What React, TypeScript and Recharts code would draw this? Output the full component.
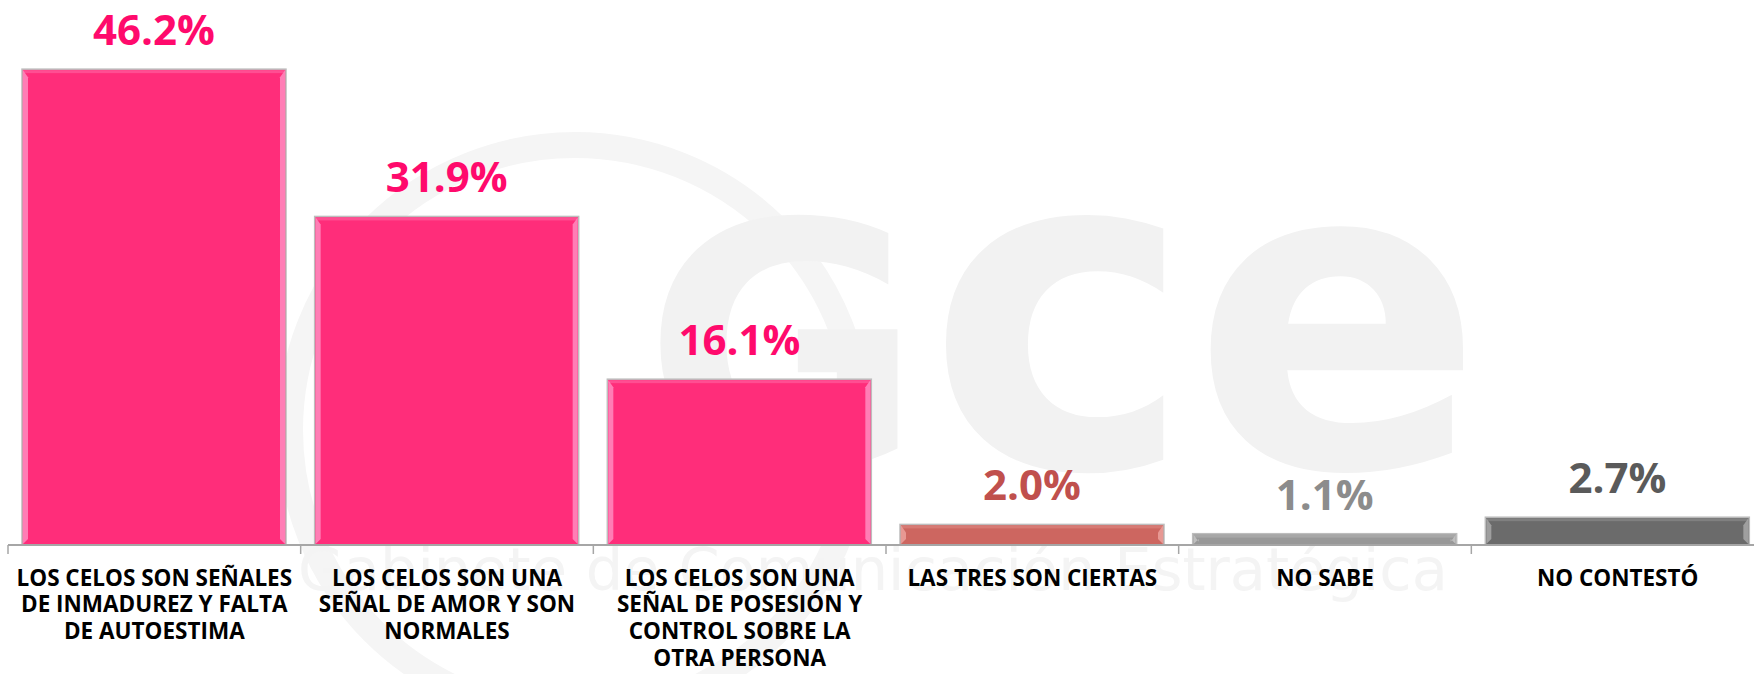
import { BarChart, Bar, XAxis, YAxis, Cell, LabelList } from 'recharts';

const categories = [
    'LOS CELOS SON SEÑALES DE INMADUREZ Y FALTA DE AUTOESTIMA',
    'LOS CELOS SON UNA SEÑAL DE AMOR Y SON NORMALES',
    'LOS CELOS SON UNA SEÑAL DE POSESIÓN Y CONTROL SOBRE LA OTRA PERSONA',
    'LAS TRES SON CIERTAS',
    'NO SABE',
    'NO CONTESTÓ',
];

const categoryLines = [
    ['LOS CELOS SON SEÑALES', 'DE INMADUREZ Y FALTA', 'DE AUTOESTIMA'],
    ['LOS CELOS SON UNA', 'SEÑAL DE AMOR Y SON', 'NORMALES'],
    ['LOS CELOS SON UNA', 'SEÑAL DE POSESIÓN Y', 'CONTROL SOBRE LA', 'OTRA PERSONA'],
    ['LAS TRES SON CIERTAS'],
    ['NO SABE'],
    ['NO CONTESTÓ'],
];

const values = [46.2, 31.9, 16.1, 2.0, 1.1, 2.7];

const data = categories.map((name, i) => ({ name, value: values[i] }));

// colours per bar
const barFill = ['#FF2D7A', '#FF2D7A', '#FF2D7A', '#CD6660', '#989898', '#6B6B6B'];
const barEdge = ['#FF8CC0', '#FF8CC0', '#FF8CC0', '#EBA19C', '#C4C4C4', '#A8A8A8'];
const labelFill = ['#FF0A6C', '#FF0A6C', '#FF0A6C', '#C0504D', '#8C8C8C', '#5A5A5A'];

const W = 1770;
const H = 674;
const M_TOP = 30;
const M_LEFT = 8;
const M_RIGHT = 6;
const AXIS_H = 129;
const AXIS_Y = H - AXIS_H;
const BAND = (W - M_LEFT - M_RIGHT) / categories.length;
const FONT = '"Open Sans", Lato, sans-serif';

const BevelBar = (props: any) => {
    const { x, y, width, height, index } = props;
    if (height <= 0) return null;
    const e = Math.min(5, width / 4);
    const t = Math.min(3, height / 3);
    return (
        <g>
            <rect x={x} y={y} width={width} height={height} fill={barFill[index]} stroke="#BDBDBD" strokeWidth={1.5} />
            <path d={`M${x + 1},${y + 1} L${x + 1 + e},${y + 1 + t + 4} L${x + 1 + e},${y + height - 1 - t - 2} L${x + 1},${y + height - 1} Z`} fill={barEdge[index]} opacity={0.85} />
            <path d={`M${x + width - 1},${y + 1} L${x + width - 1 - e},${y + 1 + t + 4} L${x + width - 1 - e},${y + height - 1 - t - 2} L${x + width - 1},${y + height - 1} Z`} fill={barEdge[index]} opacity={0.85} />
            <rect x={x + 1} y={y + 1} width={width - 2} height={t} fill={barEdge[index]} opacity={0.35} />
        </g>
    );
};

const ValueLabel = (props: any) => {
    const { x, y, width, value, index } = props;
    return (
        <text
            x={x + width / 2}
            y={y - 24}
            textAnchor="middle"
            fill={labelFill[index]}
            fontFamily={FONT}
            fontWeight={700}
            fontSize={42}
        >
            {`${Number(value).toFixed(1)}%`}
        </text>
    );
};

const CategoryTick = (props: any) => {
    const { x, payload } = props;
    const idx = payload.index;
    const lines = categoryLines[idx] || [payload.value];
    return (
        <g>
            <line x1={x - BAND / 2} y1={AXIS_Y} x2={x - BAND / 2} y2={AXIS_Y + 9} stroke="#A6A6A6" strokeWidth={1.5} />
            {idx === categories.length - 1 && (
                <line x1={x + BAND / 2} y1={AXIS_Y} x2={x + BAND / 2} y2={AXIS_Y + 9} stroke="#A6A6A6" strokeWidth={1.5} />
            )}
            {lines.map((ln: string, i: number) => (
                <text
                    key={i}
                    x={x}
                    y={AXIS_Y + 32 + i * 26.7}
                    textAnchor="middle"
                    dominantBaseline="central"
                    fill="#000000"
                    fontFamily={FONT}
                    fontWeight={700}
                    fontSize={22.5}
                >
                    {ln}
                </text>
            ))}
        </g>
    );
};

// faint logo watermark behind the chart
const Watermark = () => (
    <svg width={1754} height={674} style={{ position: 'absolute', left: 0, top: 0 }}>
        <circle cx={575} cy={430} r={285} fill="none" stroke="#F5F5F5" strokeWidth={26} />
        <g fill="#F2F2F2" fontFamily="DejaVu Sans, sans-serif" fontWeight={700} textAnchor="middle">
            <text x={783} y={467} fontSize={340}>G</text>
            <text x={1060} y={467} fontSize={450}>c</text>
            <text x={1338} y={467} fontSize={430}>e</text>
        </g>
        <text x={298} y={590} fill="#F4F4F4" fontFamily="DejaVu Sans, sans-serif" fontSize={58} textLength={1150} lengthAdjust="spacingAndGlyphs">
            Gabinete de Comunicación Estratégica
        </text>
    </svg>
);

export default function App() {
    return (
        <div style={{ position: 'absolute', left: 0, top: 0, width: 1754, height: 674, overflow: 'hidden', background: '#fff' }}>
            <Watermark />
            <div style={{ position: 'absolute', left: 0, top: 0 }}>
                <BarChart width={W} height={H} data={data} margin={{ top: M_TOP, right: M_RIGHT, left: M_LEFT, bottom: 0 }} barSize={264}>
                    <XAxis
                        dataKey="name"
                        interval={0}
                        height={AXIS_H}
                        tickLine={false}
                        axisLine={{ stroke: '#A6A6A6', strokeWidth: 2 }}
                        tick={<CategoryTick />}
                    />
                    <YAxis hide domain={[0, 50]} />
                    <Bar dataKey="value" isAnimationActive={false} shape={<BevelBar />}>
                        {data.map((d, i) => (
                            <Cell key={d.name} fill={barFill[i]} />
                        ))}
                        <LabelList dataKey="value" content={<ValueLabel />} />
                    </Bar>
                </BarChart>
            </div>
        </div>
    );
}
